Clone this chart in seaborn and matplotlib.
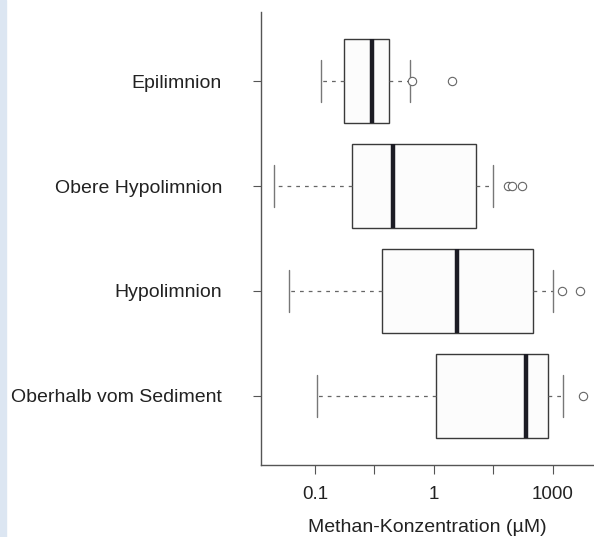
import pandas as pd
import matplotlib.pyplot as plt
import matplotlib.patches as mpatches
from matplotlib.ticker import NullLocator
import seaborn as sns

# ----------------------------
# DATA (five-number summaries read off the chart + outliers)
# ----------------------------
zones = ["Epilimnion", "Obere Hypolimnion", "Hypolimnion", "Oberhalb vom Sediment"]
whisker_low = [0.112, 0.045, 0.061, 0.103]
q1 = [0.176, 0.206, 0.363, 1.03]
median = [0.301, 0.450, 1.57, 5.93]
q3 = [0.421, 2.24, 6.83, 9.02]
whisker_high = [0.632, 3.11, 10.1, 12.2]

outlier_zone = ["Epilimnion", "Epilimnion",
                "Obere Hypolimnion", "Obere Hypolimnion", "Obere Hypolimnion",
                "Hypolimnion", "Hypolimnion",
                "Oberhalb vom Sediment"]
outlier_value = [0.657, 1.41, 4.21, 4.55, 5.46, 11.8, 16.9, 17.8]

tick_values = [0.1, 10 ** -0.5, 1, 10 ** 0.5, 10]
tick_labels = ["0.1", "", "1", "", "1000"]

rows = []
for i, z in enumerate(zones):
    for v in (whisker_low[i], q1[i], median[i], q3[i], whisker_high[i]):
        rows.append({"zone": z, "value": v})
df = pd.DataFrame(rows)
out = pd.DataFrame({"zone": outlier_zone, "value": outlier_value})

# ----------------------------
# PLOT
# ----------------------------
sns.set_style("ticks")
plt.rcParams["font.family"] = ["Liberation Sans", "DejaVu Sans"]

fig = plt.figure(figsize=(5.94, 5.37), dpi=100)
fig.patches.append(mpatches.Rectangle((0, 0), 6 / 594, 1, transform=fig.transFigure,
                                      color="#dce6f2", zorder=0))
ax = fig.add_axes([261 / 594, 72 / 537, 333 / 594, 453 / 537])

edge = "#3a3a3a"
sns.boxplot(data=df, x="value", y="zone", order=zones, orient="h", ax=ax,
            log_scale=True, whis=(0, 100), width=0.8, color="#fcfcfc",
            linecolor=edge, linewidth=1.0, fliersize=0,
            medianprops={"color": "#1c1c24", "linewidth": 3.2},
            whiskerprops={"color": "#666666", "linestyle": (0, (3, 4)), "linewidth": 0.9},
            capprops={"color": "#777777", "linewidth": 1.0})

sns.stripplot(data=out, x="value", y="zone", order=zones, orient="h", ax=ax,
              jitter=False, color="white", edgecolor="#666666", linewidth=0.8,
              size=6, zorder=5)

ax.set_xscale("log")
ax.set_xlim(10 ** -1.454, 10 ** 1.345)
ax.set_ylim(3.66, -0.66)
ax.set_xticks(tick_values)
ax.set_xticklabels(tick_labels)
ax.xaxis.set_minor_locator(NullLocator())

for s in ["top", "right"]:
    ax.spines[s].set_visible(False)
for s in ["left", "bottom"]:
    ax.spines[s].set_color("#555555")
    ax.spines[s].set_linewidth(1.0)

ax.tick_params(axis="y", length=6, width=0.8, color="#555555", pad=22,
               labelsize=14, labelcolor="#222222")
ax.tick_params(axis="x", length=6.5, width=0.8, color="#555555", pad=8.5,
               labelsize=13.5, labelcolor="#222222")
ax.set_ylabel("")
ax.set_xlabel("Methan-Konzentration (µM)", fontsize=14, color="#222222", labelpad=12)

plt.savefig("out.png", dpi=100)
